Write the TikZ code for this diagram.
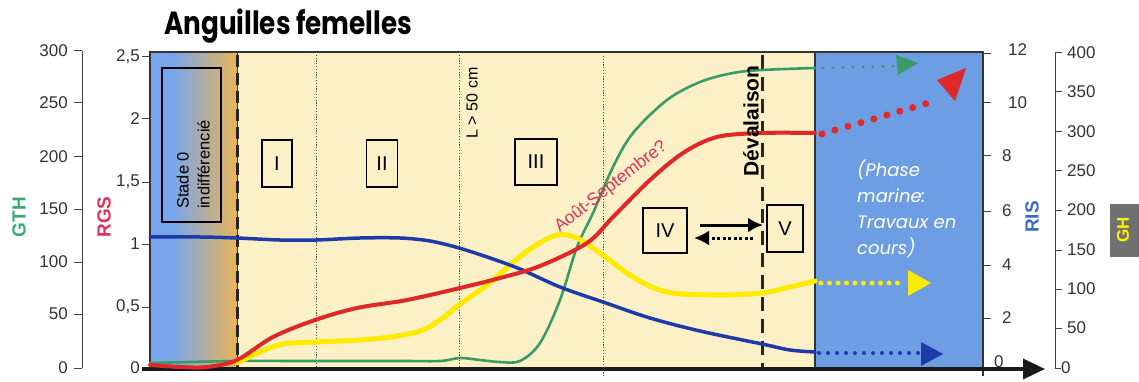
\documentclass[tikz,border=0pt]{standalone}
\usepackage{fontspec}
\setmainfont{Liberation Sans}
\newfontfamily\geo{Poppins}
\usetikzlibrary{arrows.meta}
\definecolor{cgreen}{HTML}{3A9A68}
\definecolor{cred}{HTML}{E02828}
\definecolor{cyel}{HTML}{FFEA00}
\definecolor{cblue}{HTML}{1C3AA8}
\definecolor{labred}{HTML}{E0305A}
\definecolor{labgreen}{HTML}{3AAA70}
\definecolor{labblue}{HTML}{3A6AD0}
\definecolor{bgyel}{HTML}{FBF0C6}
\definecolor{bgblue}{HTML}{6D9DE3}
\definecolor{sblue}{HTML}{78A6EC}
\definecolor{spink}{HTML}{D8B4D8}
\definecolor{sorange}{HTML}{E9B458}
\definecolor{ghgray}{HTML}{707070}
\begin{document}
\begin{tikzpicture}[x=1pt,y=-1pt,
  axtick/.style={line width=1pt, black!75},
  ticklab/.style={font=\fontsize{17}{17}\selectfont, text=black!80, inner sep=0pt},
  stagebox/.style={draw, line width=1.8pt, inner sep=0pt, font=\fontsize{20}{20}\selectfont},
  curve/.style={smooth, tension=0.55, line cap=round, line join=round},
  dotline/.style={line cap=round, dash pattern=on 0pt off #1},
  vdot/.style={line width=0.9pt, black!70, dash pattern=on 1.2pt off 1.6pt},
  axlab/.style={rotate=90, font=\bfseries\fontsize{19}{19}\selectfont, inner sep=0pt}]
\useasboundingbox (0,0) rectangle (1139,382);
% backgrounds
\fill[sblue] (150,52) rectangle (172,368);
\shade[left color=sblue, middle color=spink, right color=sorange] (172,52) rectangle (237,368);
\fill[bgyel] (237,52) rectangle (815,368);
\fill[bgblue] (815,52) rectangle (983,368);
% frame
\draw[line width=1.2pt, black!80] (150,368) -- (150,52) -- (983,52) -- (983,376);
\draw[line width=1.2pt, black!80] (815,52) -- (815,368);
\draw[line width=0.8pt, black!80] (237,52) -- (237,368);
% dividers
\draw[vdot] (316,52) -- (316,368);
\draw[vdot] (459,52) -- (459,368);
\draw[vdot] (603,56) -- (603,377);
\draw[line width=3pt, black!85, dash pattern=on 12pt off 6pt] (237,55) -- (237,368);
\draw[line width=3pt, black!85, dash pattern=on 14pt off 8pt] (762,55) -- (762,368);
% title
\node[font=\geo\bfseries\fontsize{32}{32}\selectfont, anchor=base west, inner sep=0pt, xscale=0.82] (title) at (164,35) {Anguilles femelles};
% left GTH axis
\draw[axtick] (82,51) -- (82,368);
\foreach \v/\y [count=\i] in {0/368,50/314,100/262,150/209,200/157,250/103,300/51}{
  \draw[axtick] (74,\y) -- (82,\y);
  \node[ticklab, anchor=east] (gth\i) at (68,\y) {\v};
}
\node[axlab, text=labgreen] (gthlab) at (19,217) {GTH};
% RGS axis
\foreach \v/\y [count=\i] in {0/368,{0,5}/307,1/244,{1,5}/182,2/119,{2,5}/57}{
  \draw[axtick] (142,\y) -- (150,\y);
  \node[ticklab, anchor=east] (rgs\i) at (140,\y) {\v};
}
\node[axlab, text=labred] (rgslab) at (104,217) {RGS};
% RIS axis
\foreach \v/\y [count=\i] in {0/368,2/318,4/265,6/211,8/156,10/103,12/54}{
  \draw[axtick] (983,\y) -- (991,\y);
}
\foreach \v/\y [count=\i] in {2/318,4/265,6/211,8/156}{
  \node[ticklab, anchor=west] (ris\i) at (1002,\y) {\v};
}
\node[ticklab, anchor=west] (ris0) at (994,362) {0};
\node[ticklab, anchor=west] (ris10) at (1008,103) {10};
\node[ticklab, anchor=west] (ris12) at (1008,50) {12};
\node[axlab, text=labblue] (rislab) at (1032,217) {RIS};
% GH axis
\draw[axtick] (1055,52) -- (1055,368);
\foreach \v/\y [count=\i] in {400/53,350/92,300/132,250/171,200/210,150/250,100/289,50/328}{
  \draw[axtick] (1055,\y) -- (1062,\y);
  \node[ticklab, anchor=west] (gh\i) at (1067,\y) {\v};
}
\draw[axtick] (1055,368) -- (1061,368);
\node[ticklab, anchor=west] (gh0) at (1061,368) {0};
\fill[ghgray] (1110,204) rectangle (1139,257);
\node[axlab, text=yellow, font=\bfseries\fontsize{17}{17}\selectfont] (ghlab) at (1123,230) {GH};
% x axis
\draw[line width=3.5pt, black!90, -{Triangle[length=22pt,width=20pt]}] (142,369) -- (1045,369);
% curves
\draw[curve, cgreen, line width=2.6pt] plot coordinates {(150,363) (237,361) (300,361) (400,361) (440,361) (460,358) (480,360) (500,362) (520,361) (540,343) (560,300) (577,247) (593,213) (613,167) (633,133) (667,100) (700,82) (733,73) (762,70) (815,68)};
\draw[curve, cyel, line width=5pt] plot coordinates {(237,363) (260,352) (283,344) (316,342) (373,339) (417,332) (440,320) (460,304) (487,285) (510,265) (533,247) (557,235) (577,238) (600,253) (633,277) (667,292) (717,295) (762,293) (790,287) (815,281)};
\draw[curve, cblue, line width=3.5pt] plot coordinates {(150,237) (200,237) (237,238) (280,240) (316,240) (360,238) (400,238) (430,241) (459,248) (490,258) (520,269) (560,287) (603,302) (650,318) (700,331) (762,344) (790,350) (815,352)};
\draw[curve, cred, line width=4pt] plot coordinates {(150,365) (180,367) (207,367) (237,360) (273,337) (315,320) (357,308) (407,300) (460,288) (500,278) (540,266) (587,243) (613,217) (650,180) (683,153) (717,137) (762,133) (815,133)};
% dotted continuations
\coordinate (gA) at (823,68); \coordinate (gB) at (897,66);
\draw[cgreen, line width=3.2pt, dotline=10pt] (gA) -- (gB);
\fill[cgreen] (896,55) -- (918,63) -- (898,75) -- cycle;
\coordinate (rA) at (822,134); \coordinate (rB) at (935,101);
\draw[cred, line width=7pt, dotline=13.5pt] (rA) -- (rB);
\fill[cred] (937,80) -- (966,68) -- (955,101) -- cycle;
\coordinate (yA) at (821,283); \coordinate (yB) at (905,283);
\draw[cyel, line width=5pt, dotline=8.5pt] (yA) -- (yB);
\fill[cyel] (908,270) -- (931,283) -- (908,296) -- cycle;
\coordinate (bA) at (819,353); \coordinate (bB) at (920,353);
\draw[cblue, line width=4pt, dotline=9pt] (bA) -- (bB);
\fill[cblue] (921,342) -- (943,354) -- (921,366) -- cycle;
% stage boxes
\draw[line width=1.8pt] (162,68) rectangle (221,222);
\node[rotate=90, font=\fontsize{16.5}{21}\selectfont, align=left, anchor=south west, inner sep=0pt] (stade0) at (210,209) {Stade 0\\indifférencié};
\node[stagebox, minimum width=30pt, minimum height=47pt] (s1) at (277,163.5) {I};
\node[stagebox, minimum width=31pt, minimum height=47pt] (s2) at (382,163.5) {II};
\node[stagebox, minimum width=42pt, minimum height=46pt] (s3) at (536,162) {III};
\node[stagebox, minimum width=44pt, minimum height=45pt] (s4) at (665,230.5) {IV};
\node[stagebox, minimum width=36pt, minimum height=47pt] (s5) at (785,228.5) {V};
% arrows between IV and V
\coordinate (aS) at (700,225); \coordinate (aE) at (763,225);
\draw[line width=3pt, -{Latex[length=15pt,width=15pt]}] (aS) -- (aE);
\coordinate (dS) at (753,238); \coordinate (dE) at (694,238);
\draw[line width=3pt, dash pattern=on 3pt off 2.5pt, -{Latex[length=15pt,width=15pt]}] (dS) -- (dE);
% labels
\node[rotate=90, font=\fontsize{16}{16}\selectfont, inner sep=0pt] (lcm) at (472,103) {L > 50 cm};
\node[rotate=90, font=\bfseries\fontsize{21}{21}\selectfont, inner sep=0pt] (deval) at (751,121) {Dévalaison};
\node[rotate=38, font=\fontsize{17.5}{17.5}\selectfont, text=labred, inner sep=0pt] (aout) at (611,187) {Août-Septembre?};
\node[font=\geo\itshape\fontsize{18}{26}\selectfont, text=white, align=left, anchor=north west, inner sep=0pt] (marine) at (857,159) {(Phase\\marine:\\Travaux en\\cours)};
\end{tikzpicture}
\end{document}
